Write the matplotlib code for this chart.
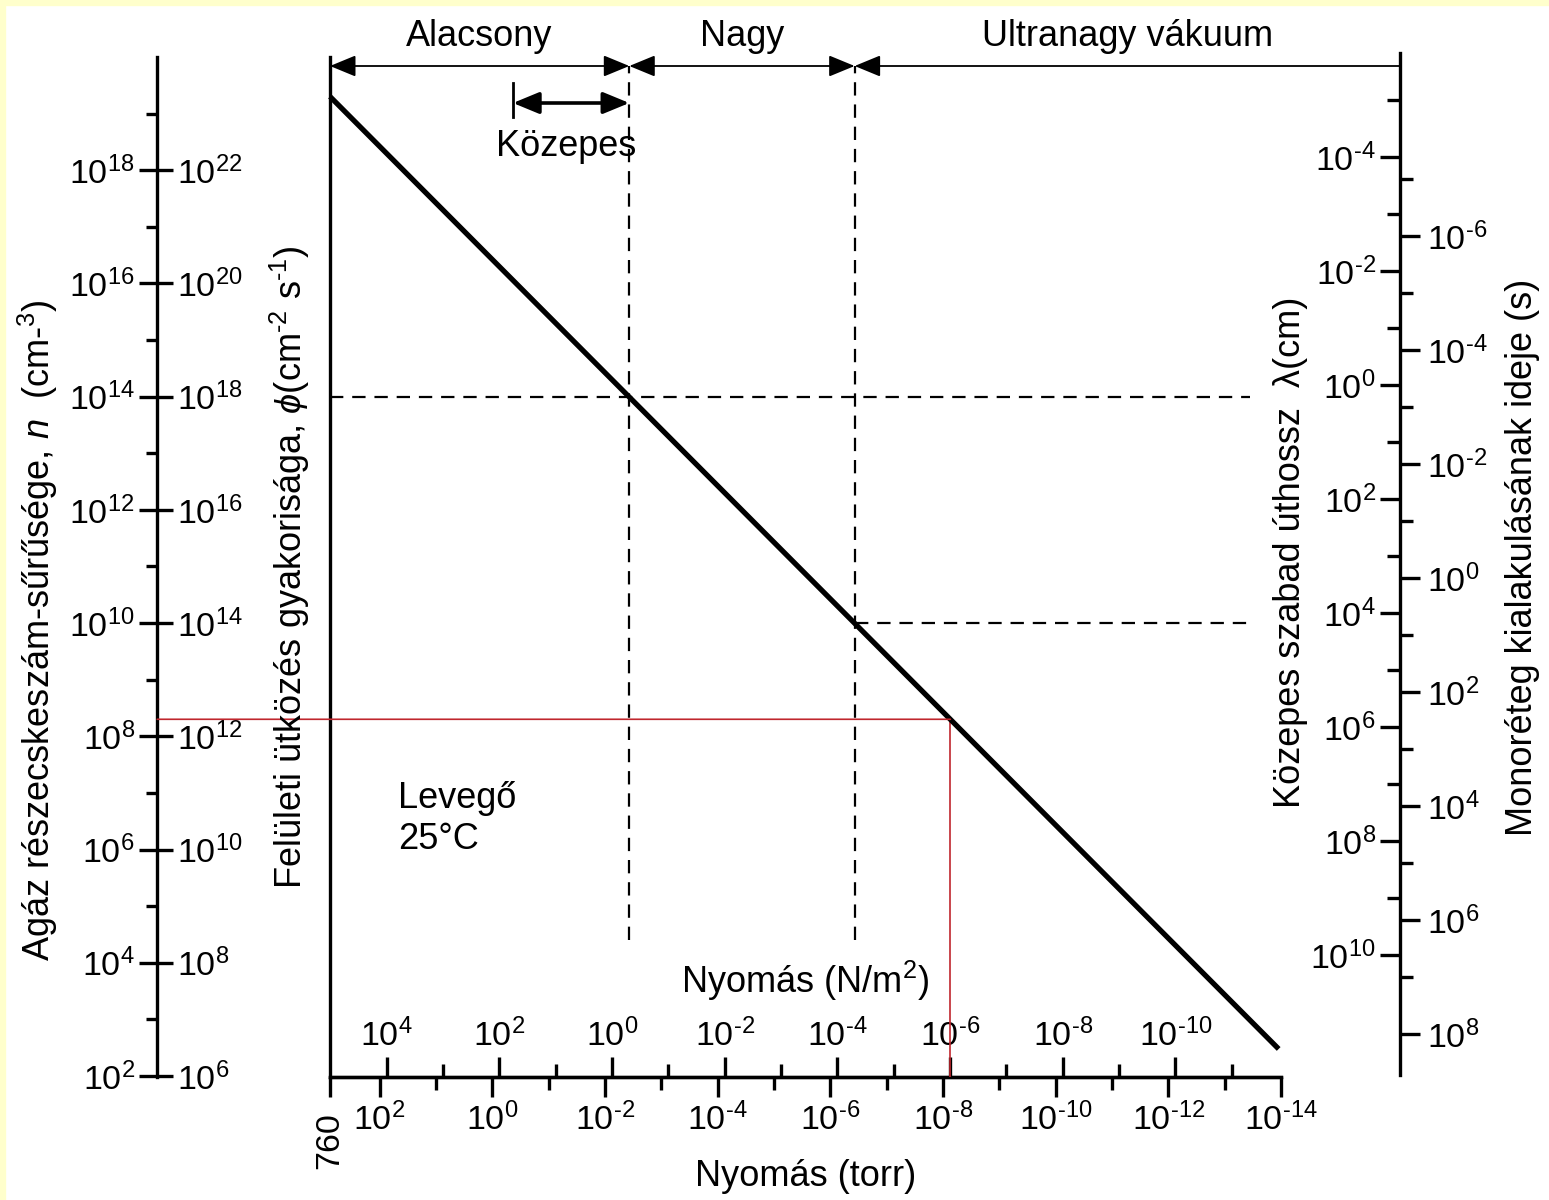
import matplotlib

matplotlib.use("Agg")
import matplotlib.pyplot as plt
import numpy as np
from matplotlib.patches import ConnectionPatch, Rectangle
from matplotlib.ticker import FuncFormatter, NullFormatter

plt.rcParams["font.family"] = ["Liberation Sans", "DejaVu Sans"]
plt.rcParams["mathtext.fontset"] = "custom"
plt.rcParams["mathtext.rm"] = "Liberation Sans"
plt.rcParams["mathtext.it"] = "Liberation Sans:italic"
plt.rcParams["mathtext.bf"] = "Liberation Sans:bold"

# --- values -----------------------------------------------------------------
line_torr = [760, 1.1e-14]          # n(p) line end points
line_n = [2.0e19, 3.0e2]

region_names = ["Alacsony", "Nagy", "Ultranagy vákuum"]
boundary_torr = [3.7e-3, 3.7e-7]    # Alacsony|Nagy and Nagy|Ultranagy
boundary_n = [1e14, 1e10]
kozepes_torr = [0.43, 3.7e-3]
dash_end_torr = 3.5e-14

marker_torr = 7.4e-9                # red read-off example
marker_n = 2e8

torr_major = [1e2, 1e0, 1e-2, 1e-4, 1e-6, 1e-8, 1e-10, 1e-12, 1e-14]
torr_minor = [1e1, 1e-1, 1e-3, 1e-5, 1e-7, 1e-9, 1e-11, 1e-13]
pa_major = [1e4, 1e2, 1e0, 1e-2, 1e-4, 1e-6, 1e-8, 1e-10]
pa_minor = [1e3, 1e1, 1e-1, 1e-3, 1e-5, 1e-7, 1e-9, 1e-11]
n_major = [1e2, 1e4, 1e6, 1e8, 1e10, 1e12, 1e14, 1e16, 1e18]
n_minor = [1e3, 1e5, 1e7, 1e9, 1e11, 1e13, 1e15, 1e17, 1e19]
phi_major = [1e6, 1e8, 1e10, 1e12, 1e14, 1e16, 1e18, 1e20, 1e22]
lambda_major = [1e-4, 1e-2, 1e0, 1e2, 1e4, 1e6, 1e8, 1e10]
lambda_minor = [1e-5, 1e-3, 1e-1, 1e1, 1e3, 1e5, 1e7, 1e9]
tau_major = [1e-6, 1e-4, 1e-2, 1e0, 1e2, 1e4, 1e6, 1e8]
tau_minor = [1e-7, 1e-5, 1e-3, 1e-1, 1e1, 1e3, 1e5, 1e7]

PA_PER_TORR = 133.3
PHI_PER_N = 1e4
TAU_PER_LAMBDA = 4.1e-4

# --- layout (pixels of the 1549x1200 picture) ---------------------------------
W, H = 1549, 1200
RED = "#c0262d"
AX_LW = 2.4
TICK_FS = 24.5
TEXT_FS = 26
DASH = (0, (6, 4))


def frame(x0, y0, x1, y1):
    return [x0 / W, 1 - y1 / H, (x1 - x0) / W, (y1 - y0) / H]


def power_label(value, pos=None):
    exp = int(round(np.log10(value)))
    sign = "\u2010" if exp < 0 else ""
    return rf"$10^{{{sign}{abs(exp)}}}$"


fig = plt.figure(figsize=(W / 100, H / 100), dpi=100, facecolor="white")
fig.patches.append(Rectangle((0, 1 - 5 / H), 1, 5 / H, transform=fig.transFigure, color="#ffffcc", zorder=0))
fig.patches.append(Rectangle((0, 0), 5 / W, 1, transform=fig.transFigure, color="#ffffcc", zorder=0))

# main log-log panel: pressure (torr) vs particle density
ax = fig.add_axes(frame(330, 57, 1281, 1077))
ax.set_xscale("log")
ax.set_yscale("log")
ax.set_xlim(760, 1e-14)
ax.set_ylim(10 ** 1.982, 1e20)
ax.patch.set_alpha(0)
for side in ("top", "right"):
    ax.spines[side].set_visible(False)
for side in ("left", "bottom"):
    ax.spines[side].set_linewidth(AX_LW)
ax.tick_params(axis="y", which="both", left=False, labelleft=False)
ax.set_xticks([760] + torr_major)
ax.set_xticks(torr_minor, minor=True)
ax.xaxis.set_major_formatter(FuncFormatter(lambda v, pos: "" if v > 500 else power_label(v)))
ax.xaxis.set_minor_formatter(NullFormatter())
ax.tick_params(axis="x", which="major", direction="out", length=14.4, width=AX_LW, pad=4, labelsize=TICK_FS)
ax.tick_params(axis="x", which="minor", direction="out", length=9.4, width=AX_LW)
ax.set_xlabel("Nyomás (torr)", fontsize=TEXT_FS, labelpad=16)
ax.annotate("760", xy=(760, 0), xycoords=("data", "axes fraction"), xytext=(0, -25),
            textcoords="offset points", rotation=90, ha="center", va="top", fontsize=TICK_FS)

pa = ax.secondary_xaxis(0.0, functions=(lambda p: p * PA_PER_TORR, lambda q: q / PA_PER_TORR))
pa.set_alignment("top")
pa.set_xticks(pa_major)
pa.set_xticks(pa_minor, minor=True)
pa.xaxis.set_major_formatter(FuncFormatter(power_label))
pa.xaxis.set_minor_formatter(NullFormatter())
pa.tick_params(axis="x", which="major", direction="out", length=14.4, width=AX_LW, pad=3, labelsize=TICK_FS)
pa.tick_params(axis="x", which="minor", direction="out", length=9.4, width=AX_LW)
pa.spines["top"].set_linewidth(AX_LW)
pa.set_xlabel("Nyomás (N/m$^2$)", fontsize=TEXT_FS, labelpad=18)

# left scale: n and impingement rate phi
n_ax = fig.add_axes(frame(157, 57, 157.2, 1077))
n_ax.set_yscale("log")
n_ax.set_ylim(ax.get_ylim())
n_ax.set_xticks([])
for side in ("top", "right", "bottom"):
    n_ax.spines[side].set_visible(False)
n_ax.spines["left"].set_linewidth(AX_LW)
n_ax.set_yticks(n_major)
n_ax.set_yticks(n_minor, minor=True)
n_ax.yaxis.set_major_formatter(FuncFormatter(power_label))
n_ax.yaxis.set_minor_formatter(NullFormatter())
n_ax.tick_params(axis="y", which="major", direction="out", length=13, width=AX_LW, pad=3, labelsize=TICK_FS)
n_ax.tick_params(axis="y", which="minor", direction="out", length=8, width=AX_LW)

phi_ax = n_ax.secondary_yaxis("right", functions=(lambda n: n * PHI_PER_N, lambda f: f / PHI_PER_N))
phi_ax.set_yticks(phi_major)
phi_ax.set_yticks([], minor=True)
phi_ax.yaxis.set_major_formatter(FuncFormatter(power_label))
phi_ax.spines["right"].set_visible(False)
phi_ax.tick_params(axis="y", which="major", direction="out", length=11.5, width=AX_LW, pad=3, labelsize=TICK_FS)

# right scale: mean free path and monolayer time
lam_ax = fig.add_axes(frame(1400, 53, 1400.2, 1075))
lam_ax.set_yscale("log")
lam_ax.set_ylim(10 ** 12.105, 10 ** -5.825)
lam_ax.set_xticks([])
for side in ("top", "right", "bottom"):
    lam_ax.spines[side].set_visible(False)
lam_ax.spines["left"].set_linewidth(AX_LW)
lam_ax.set_yticks(lambda_major)
lam_ax.set_yticks(lambda_minor, minor=True)
lam_ax.yaxis.set_major_formatter(FuncFormatter(power_label))
lam_ax.yaxis.set_minor_formatter(NullFormatter())
lam_ax.tick_params(axis="y", which="major", direction="out", length=14.4, width=AX_LW, pad=3, labelsize=TICK_FS)
lam_ax.tick_params(axis="y", which="minor", direction="out", length=9.4, width=AX_LW)

tau_ax = lam_ax.secondary_yaxis("right", functions=(lambda l: l * TAU_PER_LAMBDA, lambda t: t / TAU_PER_LAMBDA))
tau_ax.set_yticks(tau_major)
tau_ax.set_yticks(tau_minor, minor=True)
tau_ax.yaxis.set_major_formatter(FuncFormatter(power_label))
tau_ax.yaxis.set_minor_formatter(NullFormatter())
tau_ax.spines["right"].set_visible(False)
tau_ax.tick_params(axis="y", which="major", direction="out", length=14.4, width=AX_LW, pad=5, labelsize=TICK_FS)
tau_ax.tick_params(axis="y", which="minor", direction="out", length=9.4, width=AX_LW)

# --- marks --------------------------------------------------------------------
ax.plot(line_torr, line_n, color="black", lw=3.8, solid_capstyle="butt", clip_on=False, zorder=4)

ARROW_Y = (1077 - 66) / 1020
KOZ_Y = (1077 - 103) / 1020
DASH_BOTTOM = (1077 - 940) / 1020
RIGHT_END = (1400 - 330) / 951

for b in boundary_torr:
    ax.axvline(b, ymin=DASH_BOTTOM, ymax=ARROW_Y, color="black", lw=1.6, ls=DASH, clip_on=False)
ax.hlines(boundary_n[0], line_torr[0], dash_end_torr, color="black", lw=1.6, ls=DASH)
ax.hlines(boundary_n[1], boundary_torr[1], dash_end_torr, color="black", lw=1.6, ls=DASH)

ax.vlines(marker_torr, ax.get_ylim()[0], marker_n, color=RED, lw=1.2, zorder=3)
fig.add_artist(ConnectionPatch(xyA=(marker_torr, marker_n), coordsA=ax.transData,
                               xyB=(1.0, marker_n), coordsB=n_ax.transData, color=RED, lw=1.2))


def arrow(x0, x1, y, style, lw, start="data", end="data"):
    head = f"{style},head_length=0.8,head_width=0.33"
    ax.annotate("", xy=(x1, y), xytext=(x0, y),
                xycoords=(end, "axes fraction"), textcoords=(start, "axes fraction"),
                arrowprops=dict(arrowstyle=head, lw=lw, color="black", shrinkA=0, shrinkB=0,
                                mutation_scale=20), annotation_clip=False)


arrow(line_torr[0], boundary_torr[0], ARROW_Y, "<|-|>", 1.3)
arrow(boundary_torr[0], boundary_torr[1], ARROW_Y, "<|-|>", 1.3)
arrow(boundary_torr[1], RIGHT_END, ARROW_Y, "<|-", 1.3, end="axes fraction")
arrow(kozepes_torr[0], kozepes_torr[1], KOZ_Y, "<|-|>", 2.6)
ax.plot([kozepes_torr[0]] * 2, [(1077 - 83) / 1020, (1077 - 117) / 1020],
        transform=ax.get_xaxis_transform(), color="black", lw=2, clip_on=False)


def axes_x(torr):
    return ax.transAxes.inverted().transform(ax.transData.transform((torr, 1.0)))[0]


edges = [axes_x(line_torr[0]), axes_x(boundary_torr[0]), axes_x(boundary_torr[1]), RIGHT_END]
label_y = (1077 - 36) / 1020
for name, left, right in zip(region_names, edges[:-1], edges[1:]):
    ax.text((left + right) / 2, label_y, name, transform=ax.transAxes, ha="center", va="center",
            fontsize=TEXT_FS)
ax.text(np.sqrt(kozepes_torr[0] * kozepes_torr[1]) * 1.25, (1077 - 147) / 1020, "Közepes",
        transform=ax.get_xaxis_transform(), ha="center", va="center", fontsize=TEXT_FS)
ax.text((398 - 330) / 951, (1077 - 819) / 1020, "Levegő\n25°C", transform=ax.transAxes,
        ha="left", va="center", fontsize=TEXT_FS, linespacing=1.25)

# --- rotated scale titles --------------------------------------------------------
fig.text(38 / W, 1 - 630 / H, "Agáz részecskeszám-sűrűsége, $n$  (cm-$^{3}$)", rotation=90,
         ha="center", va="center", fontsize=TEXT_FS)
fig.text(290 / W, 1 - 567 / H, "Felületi ütközés gyakorisága, $\\phi$(cm$^{\u20102}$ s$^{\u20101}$)",
         rotation=90, ha="center", va="center", fontsize=TEXT_FS)
fig.text(1290 / W, 1 - 552 / H, "Közepes szabad úthossz  λ(cm)", rotation=90,
         ha="center", va="center", fontsize=TEXT_FS)
fig.text(1523 / W, 1 - 557 / H, "Monoréteg kialakulásának ideje (s)", rotation=90,
         ha="center", va="center", fontsize=TEXT_FS)

fig.savefig("out.png", dpi=100, facecolor=fig.get_facecolor())
